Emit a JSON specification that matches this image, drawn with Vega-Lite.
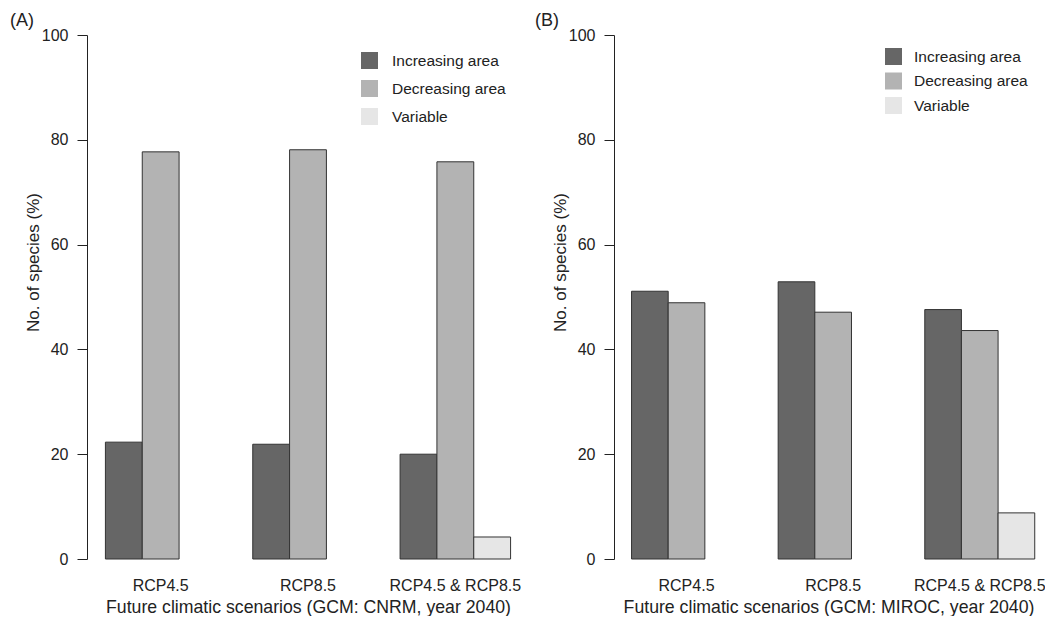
{
  "$schema": "https://vega.github.io/schema/vega-lite/v6.json",
  "background": "white",
  "padding": {"left": 10, "top": 12, "right": 0, "bottom": 0},
  "spacing": 6,
  "datasets": {
    "bars": [
      {"panel": "A", "scenario": "RCP4.5", "type": "Increasing area", "value": 22.3},
      {"panel": "A", "scenario": "RCP4.5", "type": "Decreasing area", "value": 77.7},
      {"panel": "A", "scenario": "RCP8.5", "type": "Increasing area", "value": 21.9},
      {"panel": "A", "scenario": "RCP8.5", "type": "Decreasing area", "value": 78.1},
      {"panel": "A", "scenario": "RCP4.5 & RCP8.5", "type": "Increasing area", "value": 20.0},
      {"panel": "A", "scenario": "RCP4.5 & RCP8.5", "type": "Decreasing area", "value": 75.8},
      {"panel": "A", "scenario": "RCP4.5 & RCP8.5", "type": "Variable", "value": 4.2},
      {"panel": "B", "scenario": "RCP4.5", "type": "Increasing area", "value": 51.1},
      {"panel": "B", "scenario": "RCP4.5", "type": "Decreasing area", "value": 48.9},
      {"panel": "B", "scenario": "RCP8.5", "type": "Increasing area", "value": 52.9},
      {"panel": "B", "scenario": "RCP8.5", "type": "Decreasing area", "value": 47.1},
      {"panel": "B", "scenario": "RCP4.5 & RCP8.5", "type": "Increasing area", "value": 47.6},
      {"panel": "B", "scenario": "RCP4.5 & RCP8.5", "type": "Decreasing area", "value": 43.6},
      {"panel": "B", "scenario": "RCP4.5 & RCP8.5", "type": "Variable", "value": 8.8}
    ]
  },
  "resolve": {
    "scale": {"color": "independent", "x": "independent", "y": "independent", "xOffset": "independent"},
    "legend": {"color": "independent"}
  },
  "hconcat": [
    {
      "data": {"name": "bars"},
      "transform": [{"filter": "datum.panel === 'A'"}],
      "title": {"text": "(A)", "anchor": "start", "frame": "group", "dx": -77, "fontSize": 18, "fontWeight": "normal", "offset": -3, "color": "#222"},
      "width": 442,
      "height": 524,
      "mark": {"type": "bar", "stroke": "#333333", "strokeWidth": 1},
      "encoding": {
        "x": {
          "field": "scenario", "type": "nominal",
          "sort": ["RCP4.5", "RCP8.5", "RCP4.5 & RCP8.5"],
          "scale": {"paddingInner": 0.25, "paddingOuter": 0.125},
          "axis": {"title": "Future climatic scenarios (GCM: CNRM, year 2040)", "labelAngle": 0, "domain": false, "ticks": false, "tickSize": 0, "labelPadding": 18, "labelFontSize": 16, "titleFontSize": 17.7, "titlePadding": 5}
        },
        "xOffset": {
          "field": "type", "type": "nominal",
          "scale": {"domain": ["Increasing area", "Decreasing area", "Variable"], "paddingInner": 0, "paddingOuter": 0}
        },
        "y": {
          "field": "value", "type": "quantitative",
          "scale": {"domain": [0, 100], "nice": false},
          "axis": {"title": "No. of species (%)", "values": [0, 20, 40, 60, 80, 100], "grid": false, "tickSize": 10, "labelPadding": 9, "labelFontSize": 16, "titleFontSize": 17, "titlePadding": -1, "titleY": 227}
        },
        "color": {
          "field": "type", "type": "nominal",
          "scale": {"domain": ["Increasing area", "Decreasing area", "Variable"], "range": ["#666666", "#b3b3b3", "#e6e6e6"]},
          "legend": {"orient": "none", "legendX": 274, "legendY": 17, "title": null, "symbolType": "square", "symbolSize": 289, "symbolStrokeWidth": 0, "symbolOpacity": 1, "labelFontSize": 15.5, "labelOffset": 14, "rowPadding": 11, "padding": 0, "labelColor": "#222"}
        }
      }
    },
    {
      "data": {"name": "bars"},
      "transform": [{"filter": "datum.panel === 'B'"}],
      "title": {"text": "(B)", "anchor": "start", "frame": "group", "dx": -79, "fontSize": 18, "fontWeight": "normal", "offset": -3, "color": "#222"},
      "width": 429,
      "height": 524,
      "mark": {"type": "bar", "stroke": "#333333", "strokeWidth": 1},
      "encoding": {
        "x": {
          "field": "scenario", "type": "nominal",
          "sort": ["RCP4.5", "RCP8.5", "RCP4.5 & RCP8.5"],
          "scale": {"paddingInner": 0.25, "paddingOuter": 0.088, "align": 0.68},
          "axis": {"title": "Future climatic scenarios (GCM: MIROC, year 2040)", "labelAngle": 0, "domain": false, "ticks": false, "tickSize": 0, "labelPadding": 18, "labelFontSize": 16, "titleFontSize": 17.7, "titlePadding": 5}
        },
        "xOffset": {
          "field": "type", "type": "nominal",
          "scale": {"domain": ["Increasing area", "Decreasing area", "Variable"], "paddingInner": 0, "paddingOuter": 0}
        },
        "y": {
          "field": "value", "type": "quantitative",
          "scale": {"domain": [0, 100], "nice": false},
          "axis": {"title": "No. of species (%)", "values": [0, 20, 40, 60, 80, 100], "grid": false, "tickSize": 10, "labelPadding": 9, "labelFontSize": 16, "titleFontSize": 17, "titlePadding": -1, "titleY": 227}
        },
        "color": {
          "field": "type", "type": "nominal",
          "scale": {"domain": ["Increasing area", "Decreasing area", "Variable"], "range": ["#666666", "#b3b3b3", "#e6e6e6"]},
          "legend": {"orient": "none", "legendX": 271, "legendY": 13, "title": null, "symbolType": "square", "symbolSize": 289, "symbolStrokeWidth": 0, "symbolOpacity": 1, "labelFontSize": 15.5, "labelOffset": 12, "rowPadding": 7.5, "padding": 0, "labelColor": "#222"}
        }
      }
    }
  ],
  "config": {
    "font": "Liberation Sans",
    "view": {"stroke": null},
    "axis": {"labelColor": "#222", "titleColor": "#222", "domainColor": "#222", "tickColor": "#222", "titleFontWeight": "normal", "labelFont": "Liberation Sans", "titleFont": "Liberation Sans"},
    "legend": {"labelFont": "Liberation Sans"},
    "title": {"font": "Liberation Sans"}
  }
}
